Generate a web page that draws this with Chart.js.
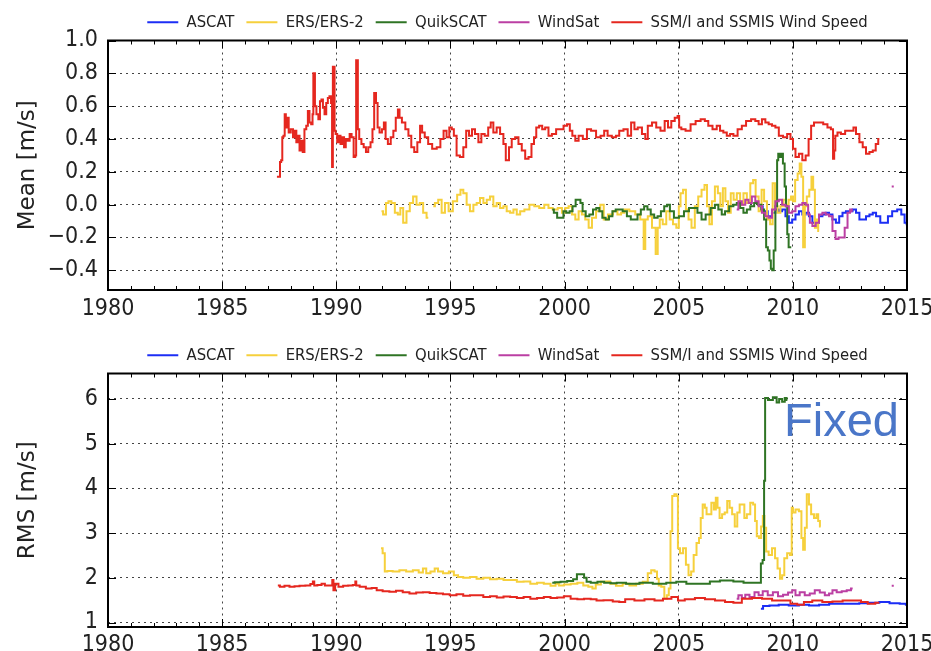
<!DOCTYPE html>
<html>
<head>
<meta charset="utf-8">
<script src="https://cdn.jsdelivr.net/npm/chart.js@4"></script>
<style>
  html, body { margin: 0; padding: 0; background: #fff; }
  #wrap { position: relative; width: 931px; height: 651px; overflow: hidden; }
  #meanBox { position: absolute; left: 0; top: 0; width: 931px; height: 325px; }
  #rmsBox { position: absolute; left: 0; top: 325px; width: 931px; height: 326px; }
  #fixed { position: absolute; left: 784px; top: 396px; font: 47px "Liberation Sans", Arial, sans-serif;
           line-height: 47px; color: #4a76c8; }
</style>
</head>
<body>
<div id="wrap">
  <div id="meanBox"><canvas id="mean"></canvas></div>
  <div id="rmsBox"><canvas id="rms"></canvas></div>
  <div id="fixed">Fixed</div>
</div>
<script>
const seriesNames = ['ASCAT', 'ERS/ERS-2', 'QuikSCAT', 'WindSat', 'SSM/I and SSMIS Wind Speed'];
const yearTicks = [1980, 1985, 1990, 1995, 2000, 2005, 2010, 2015];
const meanTicks = [-0.4, -0.2, 0.0, 0.2, 0.4, 0.6, 0.8, 1.0];
const rmsTicks = [1, 2, 3, 4, 5, 6];

// [year, mean difference m/s]
const ascatMean = [[2008.57,-0.01],[2008.79,-0.04],[2009.01,-0.07],[2009.16,-0.05],[2009.31,-0.03],[2009.46,-0.04],[2009.60,-0.03],[2009.75,-0.07],[2009.90,-0.11],[2010.04,-0.09],[2010.19,-0.06],[2010.34,-0.04],[2010.49,-0.06],[2010.63,-0.05],[2010.78,-0.07],[2010.93,-0.11],[2011.07,-0.11],[2011.22,-0.07],[2011.37,-0.06],[2011.51,-0.05],[2011.66,-0.06],[2011.81,-0.09],[2011.96,-0.11],[2012.10,-0.07],[2012.25,-0.05],[2012.40,-0.04],[2012.54,-0.04],[2012.69,-0.03],[2012.84,-0.05],[2012.99,-0.09],[2013.13,-0.09],[2013.28,-0.07],[2013.43,-0.06],[2013.57,-0.05],[2013.72,-0.07],[2013.94,-0.11],[2014.09,-0.11],[2014.24,-0.07],[2014.46,-0.04],[2014.68,-0.03],[2014.82,-0.06],[2014.97,-0.11],[2015.0,-0.12]];

const ersMean = [[1991.98,-0.04],[1992.12,-0.06],[1992.23,0.01],[1992.34,0.02],[1992.49,0.01],[1992.64,-0.05],[1992.75,-0.06],[1992.86,-0.02],[1993.0,-0.11],[1993.15,-0.04],[1993.29,0.01],[1993.44,0.05],[1993.59,0.0],[1993.73,0.01],[1993.88,-0.05],[1994.03,-0.08],[1994.10,null],[1994.25,-0.01],[1994.39,0.01],[1994.54,0.03],[1994.69,-0.05],[1994.83,0.01],[1995.01,-0.04],[1995.20,0.02],[1995.39,0.06],[1995.49,0.09],[1995.64,0.07],[1995.78,0.0],[1995.93,-0.04],[1996.08,0.0],[1996.22,0.01],[1996.37,0.04],[1996.52,0.01],[1996.66,0.03],[1996.81,0.05],[1996.95,-0.01],[1997.10,0.01],[1997.25,-0.02],[1997.39,-0.01],[1997.54,-0.04],[1997.69,-0.05],[1997.83,-0.03],[1997.98,-0.06],[1998.13,-0.04],[1998.35,-0.03],[1998.57,0.0],[1998.78,-0.01],[1999.0,-0.02],[1999.22,0.0],[1999.37,-0.02],[1999.59,-0.03],[1999.81,-0.02],[1999.96,-0.05],[2000.10,-0.02],[2000.25,-0.01],[2000.40,-0.06],[2000.54,-0.09],[2000.69,-0.04],[2000.83,-0.06],[2000.98,-0.09],[2001.13,-0.14],[2001.27,-0.08],[2001.49,-0.04],[2001.64,0.0],[2001.79,-0.09],[2002.01,-0.06],[2002.23,-0.04],[2002.40,-0.06],[2002.55,-0.05],[2002.69,-0.03],[2002.99,-0.04],[2003.20,-0.06],[2003.43,-0.09],[2003.50,-0.27],[2003.57,-0.09],[2003.72,-0.07],[2003.94,-0.14],[2004.04,-0.30],[2004.12,-0.14],[2004.22,-0.09],[2004.38,-0.12],[2004.53,-0.04],[2004.68,-0.09],[2004.82,-0.12],[2004.97,-0.14],[2005.04,-0.01],[2005.12,0.07],[2005.26,0.09],[2005.37,-0.03],[2005.49,-0.09],[2005.63,-0.14],[2005.78,-0.01],[2005.93,0.05],[2006.07,0.09],[2006.19,0.12],[2006.29,-0.01],[2006.40,-0.12],[2006.51,0.02],[2006.66,0.11],[2006.77,0.07],[2006.88,-0.01],[2006.99,0.10],[2007.10,0.02],[2007.22,-0.05],[2007.34,0.07],[2007.47,0.03],[2007.62,0.07],[2007.76,0.0],[2007.91,0.07],[2008.06,0.01],[2008.21,0.13],[2008.31,0.15],[2008.43,0.05],[2008.57,-0.04],[2008.69,0.09],[2008.79,0.02],[2008.94,-0.09],[2009.07,-0.12],[2009.16,0.13],[2009.28,-0.01],[2009.38,-0.05],[2009.53,-0.01],[2009.65,0.03],[2009.76,0.0],[2009.87,0.03],[2009.97,0.05],[2010.04,0.02],[2010.16,0.15],[2010.26,0.19],[2010.34,0.25],[2010.41,0.17],[2010.49,-0.26],[2010.56,-0.01],[2010.66,0.05],[2010.78,0.09],[2010.85,0.17],[2010.93,0.09],[2011.0,-0.14],[2011.07,-0.09],[2011.15,-0.16]];

const qscatMean = [[1999.46,-0.03],[1999.60,-0.05],[1999.75,-0.08],[1999.90,-0.08],[2000.0,-0.04],[2000.15,-0.05],[2000.29,-0.04],[2000.41,-0.01],[2000.56,0.03],[2000.66,0.03],[2000.73,0.01],[2000.85,-0.04],[2001.0,-0.07],[2001.17,-0.06],[2001.32,-0.03],[2001.46,-0.02],[2001.58,-0.04],[2001.73,-0.08],[2001.87,-0.09],[2002.02,-0.07],[2002.17,-0.04],[2002.31,-0.03],[2002.46,-0.03],[2002.63,-0.04],[2002.83,-0.07],[2002.97,-0.09],[2003.12,-0.09],[2003.27,-0.06],[2003.41,-0.03],[2003.56,-0.01],[2003.70,-0.03],[2003.85,-0.06],[2004.0,-0.08],[2004.15,-0.07],[2004.29,-0.04],[2004.44,-0.01],[2004.55,0.0],[2004.68,-0.04],[2004.90,-0.08],[2005.12,-0.07],[2005.34,-0.04],[2005.56,-0.02],[2005.71,-0.02],[2005.93,-0.05],[2006.07,-0.09],[2006.29,-0.06],[2006.51,-0.02],[2006.66,0.0],[2006.81,-0.03],[2006.96,-0.06],[2007.10,-0.04],[2007.32,-0.01],[2007.47,0.0],[2007.62,0.01],[2007.76,-0.02],[2007.91,-0.05],[2008.06,-0.03],[2008.21,-0.01],[2008.40,0.01],[2008.54,0.0],[2008.69,-0.03],[2008.79,-0.09],[2008.87,-0.26],[2008.94,-0.28],[2009.01,-0.34],[2009.06,-0.39],[2009.13,-0.40],[2009.19,-0.28],[2009.28,-0.01],[2009.34,0.27],[2009.38,0.31],[2009.46,0.29],[2009.53,0.31],[2009.60,0.25],[2009.68,0.11],[2009.72,-0.01],[2009.79,-0.18],[2009.84,-0.26],[2009.93,-0.26]];

const windsatMean = [[2007.54,-0.03],[2007.69,0.02],[2007.84,0.0],[2007.99,0.03],[2008.13,0.01],[2008.28,0.05],[2008.43,0.02],[2008.57,-0.01],[2008.72,-0.05],[2008.87,-0.07],[2009.01,-0.08],[2009.16,-0.03],[2009.31,0.02],[2009.46,0.03],[2009.60,0.0],[2009.75,-0.01],[2009.90,-0.05],[2010.04,-0.04],[2010.19,-0.01],[2010.34,0.0],[2010.49,0.01],[2010.63,0.0],[2010.71,-0.06],[2010.78,-0.11],[2010.93,-0.13],[2011.07,-0.11],[2011.22,-0.06],[2011.37,-0.05],[2011.51,-0.06],[2011.66,-0.07],[2011.81,-0.16],[2011.93,-0.21],[2012.07,-0.20],[2012.22,-0.20],[2012.32,-0.14],[2012.47,-0.05],[2012.54,-0.03],[2012.62,-0.04],[2012.70,null],[2014.33,0.11],[2014.42,0.11]];

const ssmiMean = [[1987.40,0.17],[1987.52,0.17],[1987.55,0.26],[1987.62,0.27],[1987.65,0.41],[1987.72,0.42],[1987.76,0.55],[1987.82,0.47],[1987.88,0.53],[1987.95,0.44],[1988.06,0.46],[1988.15,0.41],[1988.22,0.45],[1988.28,0.38],[1988.36,0.42],[1988.42,0.33],[1988.50,0.39],[1988.56,0.32],[1988.65,0.46],[1988.72,0.48],[1988.79,0.57],[1988.86,0.50],[1988.94,0.49],[1988.98,0.55],[1989.01,0.80],[1989.05,0.80],[1989.08,0.60],[1989.18,0.55],[1989.25,0.52],[1989.32,0.63],[1989.38,0.64],[1989.45,0.59],[1989.52,0.55],[1989.60,0.62],[1989.66,0.65],[1989.74,0.66],[1989.80,0.62],[1989.83,0.23],[1989.87,0.84],[1989.91,0.84],[1989.94,0.45],[1990.0,0.43],[1990.08,0.38],[1990.15,0.42],[1990.22,0.37],[1990.30,0.41],[1990.38,0.35],[1990.45,0.40],[1990.55,0.39],[1990.62,0.43],[1990.72,0.41],[1990.80,0.29],[1990.86,0.30],[1990.88,0.88],[1990.93,0.88],[1990.96,0.46],[1991.05,0.40],[1991.15,0.37],[1991.25,0.35],[1991.35,0.32],[1991.45,0.35],[1991.55,0.38],[1991.62,0.46],[1991.70,0.68],[1991.78,0.62],[1991.84,0.47],[1991.95,0.44],[1992.05,0.46],[1992.12,0.50],[1992.20,0.40],[1992.32,0.37],[1992.45,0.41],[1992.55,0.45],[1992.66,0.53],[1992.74,0.58],[1992.80,0.53],[1992.95,0.50],[1993.10,0.46],[1993.22,0.42],[1993.35,0.35],[1993.48,0.32],[1993.62,0.38],[1993.72,0.48],[1993.80,0.44],[1993.95,0.41],[1994.10,0.37],[1994.30,0.34],[1994.50,0.35],[1994.62,0.40],[1994.78,0.45],[1994.88,0.41],[1995.02,0.47],[1995.10,0.46],[1995.20,0.42],[1995.34,0.30],[1995.49,0.29],[1995.64,0.35],[1995.74,0.45],[1995.89,0.42],[1996.0,0.46],[1996.15,0.43],[1996.30,0.38],[1996.41,0.43],[1996.59,0.42],[1996.72,0.47],[1996.81,0.50],[1996.95,0.44],[1997.10,0.47],[1997.25,0.43],[1997.39,0.37],[1997.46,0.27],[1997.52,0.27],[1997.61,0.35],[1997.76,0.40],[1997.91,0.41],[1998.05,0.37],[1998.20,0.33],[1998.35,0.28],[1998.49,0.29],[1998.61,0.37],[1998.71,0.41],[1998.81,0.47],[1998.96,0.48],[1999.08,0.46],[1999.22,0.47],[1999.37,0.42],[1999.52,0.43],[1999.74,0.46],[1999.88,0.46],[2000.03,0.48],[2000.18,0.49],[2000.28,0.45],[2000.40,0.42],[2000.54,0.39],[2000.69,0.42],[2000.91,0.40],[2001.05,0.46],[2001.27,0.45],[2001.49,0.41],[2001.66,0.42],[2001.81,0.45],[2001.96,0.42],[2002.18,0.41],[2002.32,0.42],[2002.47,0.45],[2002.69,0.46],[2002.84,0.42],[2002.99,0.50],[2003.13,0.46],[2003.28,0.47],[2003.50,0.43],[2003.57,0.40],[2003.72,0.48],[2003.94,0.50],[2004.09,0.47],[2004.31,0.45],[2004.46,0.51],[2004.60,0.47],[2004.75,0.51],[2004.90,0.53],[2005.0,0.54],[2005.04,0.47],[2005.19,0.46],[2005.41,0.45],[2005.63,0.49],[2005.85,0.51],[2006.07,0.52],[2006.22,0.51],[2006.37,0.48],[2006.59,0.46],[2006.74,0.48],[2006.88,0.45],[2007.03,0.44],[2007.18,0.42],[2007.32,0.43],[2007.47,0.42],[2007.69,0.46],[2007.84,0.48],[2008.06,0.51],[2008.28,0.52],[2008.43,0.51],[2008.57,0.49],[2008.72,0.52],[2008.87,0.50],[2009.01,0.49],[2009.16,0.48],[2009.31,0.47],[2009.46,0.42],[2009.68,0.41],[2009.82,0.43],[2009.97,0.40],[2010.04,0.34],[2010.19,0.29],[2010.34,0.31],[2010.49,0.27],[2010.63,0.30],[2010.75,0.40],[2010.85,0.48],[2011.0,0.50],[2011.22,0.50],[2011.44,0.49],[2011.59,0.47],[2011.74,0.46],[2011.78,0.28],[2011.84,0.33],[2011.88,0.42],[2012.03,0.44],[2012.18,0.43],[2012.40,0.45],[2012.62,0.45],[2012.69,0.47],[2012.84,0.43],[2012.99,0.38],[2013.13,0.35],[2013.28,0.31],[2013.43,0.32],[2013.57,0.33],[2013.69,0.37],[2013.79,0.40]];

// [year, RMS difference m/s]
const ascatRms = [[2008.60,1.31],[2008.79,1.37],[2009.16,1.38],[2009.60,1.40],[2010.04,1.38],[2010.49,1.40],[2010.93,1.38],[2011.37,1.40],[2011.81,1.42],[2012.25,1.42],[2012.69,1.42],[2013.13,1.43],[2013.57,1.44],[2014.01,1.46],[2014.46,1.43],[2014.90,1.42],[2015.0,1.40]];

const ersRms = [[1991.96,2.66],[1992.10,2.55],[1992.15,2.14],[1992.32,2.15],[1992.62,2.14],[1992.91,2.17],[1993.21,2.14],[1993.50,2.17],[1993.72,2.12],[1993.87,2.21],[1994.01,2.10],[1994.24,2.14],[1994.38,2.21],[1994.53,2.14],[1994.82,2.10],[1995.04,2.14],[1995.26,2.06],[1995.41,2.02],[1995.71,2.00],[1996.0,2.02],[1996.29,1.98],[1996.59,2.0],[1996.88,1.97],[1997.18,1.98],[1997.47,1.95],[1997.76,1.95],[1998.06,1.91],[1998.35,1.92],[1998.65,1.87],[1998.94,1.89],[1999.24,1.87],[1999.53,1.82],[1999.68,1.87],[1999.82,1.83],[2000.12,1.85],[2000.41,1.87],[2000.71,1.89],[2000.93,1.83],[2001.15,1.80],[2001.29,1.76],[2001.44,1.85],[2001.74,1.91],[2001.90,1.92],[2002.10,1.87],[2002.40,1.82],[2002.69,1.87],[2002.99,1.83],[2003.28,1.87],[2003.57,1.91],[2003.72,2.10],[2003.87,2.17],[2004.01,2.14],[2004.09,1.98],[2004.16,1.83],[2004.31,1.80],[2004.43,1.53],[2004.53,1.61],[2004.60,1.76],[2004.68,3.04],[2004.75,3.83],[2004.87,3.87],[2004.94,3.83],[2004.99,2.66],[2005.12,2.55],[2005.26,2.66],[2005.37,2.29],[2005.49,2.06],[2005.60,2.14],[2005.71,2.51],[2005.85,2.78],[2005.93,2.89],[2006.0,3.34],[2006.10,3.64],[2006.19,3.57],[2006.25,3.42],[2006.37,3.42],[2006.49,3.68],[2006.59,3.53],[2006.66,3.79],[2006.74,3.57],[2006.84,3.34],[2006.96,3.42],[2007.07,3.46],[2007.18,3.72],[2007.28,3.57],[2007.40,3.42],[2007.51,3.15],[2007.62,3.46],[2007.72,3.64],[2007.84,3.64],[2007.91,3.34],[2008.06,3.42],[2008.21,3.68],[2008.31,3.64],[2008.38,3.27],[2008.46,2.93],[2008.57,2.89],[2008.65,3.15],[2008.72,3.38],[2008.79,3.12],[2008.87,2.59],[2009.01,2.51],[2009.16,2.66],[2009.28,2.44],[2009.38,2.21],[2009.49,1.98],[2009.57,2.06],[2009.68,2.44],[2009.82,2.55],[2009.93,2.51],[2009.97,3.57],[2010.04,3.46],[2010.19,3.53],[2010.34,3.49],[2010.41,2.89],[2010.49,2.63],[2010.56,3.12],[2010.66,3.87],[2010.75,3.64],[2010.85,3.42],[2011.0,3.34],[2011.07,3.42],[2011.15,3.27],[2011.22,3.15]];

const qscatRms = [[1999.46,1.89],[1999.68,1.90],[1999.97,1.91],[2000.26,1.93],[2000.49,1.97],[2000.59,2.08],[2000.78,2.08],[2000.93,2.0],[2001.0,1.91],[2001.29,1.89],[2001.59,1.91],[2001.88,1.89],[2002.17,1.88],[2002.40,1.89],[2002.99,1.87],[2003.57,1.89],[2004.16,1.87],[2004.75,1.89],[2005.04,1.91],[2005.63,1.87],[2006.22,1.87],[2006.51,1.92],[2007.10,1.94],[2007.69,1.92],[2007.99,1.89],[2008.57,1.89],[2008.63,2.32],[2008.72,2.40],[2008.76,4.17],[2008.81,6.02],[2009.01,5.98],[2009.24,6.04],[2009.34,5.92],[2009.46,6.0],[2009.60,5.94],[2009.69,6.02],[2009.76,5.98]];

const windsatRms = [[2007.54,1.53],[2007.69,1.61],[2007.84,1.55],[2007.99,1.62],[2008.21,1.57],[2008.43,1.68],[2008.57,1.61],[2008.79,1.70],[2009.01,1.61],[2009.24,1.68],[2009.46,1.59],[2009.68,1.62],[2009.90,1.67],[2010.04,1.72],[2010.19,1.61],[2010.41,1.68],[2010.63,1.61],[2010.85,1.65],[2011.07,1.72],[2011.29,1.67],[2011.51,1.61],[2011.66,1.65],[2011.81,1.72],[2012.03,1.68],[2012.25,1.70],[2012.47,1.72],[2012.62,1.76],[2012.70,null],[2014.33,1.82],[2014.42,1.82]];

const ssmiRms = [[1987.44,1.83],[1987.62,1.80],[1987.84,1.82],[1988.06,1.80],[1988.28,1.81],[1988.50,1.82],[1988.79,1.83],[1988.94,1.86],[1989.01,1.92],[1989.06,1.83],[1989.28,1.84],[1989.43,1.87],[1989.57,1.83],[1989.80,1.83],[1989.85,1.95],[1989.90,1.72],[1990.0,1.87],[1990.19,1.80],[1990.41,1.82],[1990.63,1.83],[1990.82,1.84],[1990.85,1.92],[1990.90,1.83],[1991.15,1.80],[1991.44,1.76],[1991.66,1.77],[1991.88,1.72],[1992.18,1.70],[1992.47,1.69],[1992.76,1.71],[1993.06,1.68],[1993.35,1.65],[1993.65,1.67],[1993.94,1.68],[1994.24,1.66],[1994.53,1.65],[1994.82,1.63],[1995.12,1.61],[1995.41,1.63],[1995.71,1.60],[1996.0,1.61],[1996.29,1.61],[1996.59,1.57],[1996.88,1.59],[1997.18,1.56],[1997.47,1.58],[1997.76,1.57],[1998.06,1.55],[1998.35,1.57],[1998.65,1.53],[1998.94,1.55],[1999.24,1.57],[1999.53,1.55],[1999.82,1.56],[2000.12,1.59],[2000.41,1.53],[2000.71,1.52],[2001.0,1.53],[2001.29,1.52],[2001.51,1.49],[2001.90,1.50],[2002.32,1.47],[2002.47,1.46],[2002.84,1.52],[2003.28,1.49],[2003.72,1.52],[2004.16,1.49],[2004.46,1.53],[2004.90,1.57],[2005.04,1.49],[2005.49,1.52],[2005.93,1.55],[2006.37,1.52],[2006.81,1.49],[2007.25,1.46],[2007.54,1.44],[2007.99,1.53],[2008.43,1.55],[2008.87,1.53],[2009.31,1.49],[2009.75,1.49],[2010.04,1.42],[2010.34,1.40],[2010.63,1.46],[2011.07,1.49],[2011.51,1.46],[2011.96,1.47],[2012.40,1.49],[2012.84,1.49],[2013.13,1.46],[2013.43,1.42],[2013.79,1.44]];

const lineColors = ['#1c2ef5', '#f6d03c', '#2f7424', '#bb3fa3', '#e5271f'];
const tickFont = {family: '"DejaVu Sans Condensed", "DejaVu Sans", sans-serif', size: 23};
const legendFont = {family: '"DejaVu Sans Condensed", "DejaVu Sans", sans-serif', size: 16.5};
const titleFont = {family: '"DejaVu Sans", sans-serif', size: 23};

function toPoints(pairs) {
    return pairs.map(p => ({x: p[0], y: p[1]}));
}

function fmtTick(v) {
    let s = Math.abs(v) < 1e-9 ? '0.0' : Math.abs(v).toFixed(1);
    return v < -1e-9 ? '\u2212' + s : s;
}

// inward matplotlib-style ticks and the black frame round the plot
const frameTicks = {
    id: 'frameTicks',
    afterDraw(chart) {
        let ctx = chart.ctx;
        let a = chart.chartArea;
        let x = chart.scales.x, y = chart.scales.y;
        ctx.save();
        ctx.strokeStyle = '#000';
        ctx.lineWidth = 1;
        ctx.beginPath();
        for (let yr = x.min; yr <= x.max; yr++) {
            let px = Math.round(x.getPixelForValue(yr)) + 0.5;
            let len = yr % 5 === 0 ? 8 : 4;
            ctx.moveTo(px, a.top); ctx.lineTo(px, a.top + len);
            ctx.moveTo(px, a.bottom); ctx.lineTo(px, a.bottom - len);
        }
        y.ticks.forEach(t => {
            let py = Math.round(y.getPixelForValue(t.value)) + 0.5;
            ctx.moveTo(a.left, py); ctx.lineTo(a.left + 8, py);
            ctx.moveTo(a.right, py); ctx.lineTo(a.right - 8, py);
        });
        ctx.stroke();
        ctx.lineWidth = 2;
        ctx.strokeRect(a.left, a.top, a.right - a.left, a.bottom - a.top);
        ctx.restore();
    }
};

function makeChart(id, seriesList, opts) {
    let datasets = seriesList.map((s, i) => ({
        label: seriesNames[i],
        data: toPoints(s),
        borderColor: lineColors[i],
        backgroundColor: lineColors[i],
        borderWidth: 2,
        pointRadius: 0,
        stepped: 'middle',
        spanGaps: false,
        order: seriesList.length - i
    }));
    return new Chart(document.getElementById(id).getContext('2d'), {
        type: 'line',
        data: {datasets: datasets},
        plugins: [frameTicks],
        options: {
            responsive: true,
            maintainAspectRatio: false,
            animation: false,
            parsing: false,
            layout: {padding: {left: 0, right: 24, top: opts.padTop, bottom: 0}},
            plugins: {
                tooltip: {enabled: false},
                legend: {
                    position: 'top',
                    fullSize: false,
                    labels: {
                        font: legendFont,
                        color: '#222',
                        usePointStyle: true,
                        pointStyle: 'line',
                        pointStyleWidth: 31,
                        padding: 12,
                        sort: (a, b) => a.datasetIndex - b.datasetIndex
                    }
                }
            },
            scales: {
                x: {
                    type: 'linear',
                    min: yearTicks[0],
                    max: yearTicks[yearTicks.length - 1],
                    afterBuildTicks: s => { s.ticks = yearTicks.map(v => ({value: v})); },
                    afterFit: s => { s.height = opts.xHeight; s.paddingLeft = 0; s.paddingRight = 0; },
                    ticks: {font: tickFont, color: '#222', padding: opts.xPad, maxRotation: 0,
                            autoSkip: false, callback: v => String(v)},
                    grid: {color: '#444', lineWidth: 1, drawTicks: false},
                    border: {display: false, dash: [2, 4]}
                },
                y: {
                    min: opts.yMin,
                    max: opts.yMax,
                    afterBuildTicks: s => { s.ticks = opts.yTicks.map(v => ({value: v})); },
                    afterFit: s => { s.width = 108; s.paddingTop = 0; s.paddingBottom = 0; },
                    ticks: {font: tickFont, color: '#222', padding: 10, callback: opts.fmt},
                    grid: {color: '#444', lineWidth: 1, drawTicks: false},
                    border: {display: false, dash: [2, 4]},
                    title: {display: true, text: opts.title, font: titleFont, color: '#222',
                            padding: {top: 14, bottom: 0}}
                }
            }
        }
    });
}

window.onload = function() {
    makeChart('mean', [ascatMean, ersMean, qscatMean, windsatMean, ssmiMean], {
        padTop: 2, xHeight: 35, xPad: 5, yMin: -0.52, yMax: 1.0,
        yTicks: meanTicks, fmt: fmtTick, title: 'Mean [m/s]'
    });
    makeChart('rms', [ascatRms, ersRms, qscatRms, windsatRms, ssmiRms], {
        padTop: 10, xHeight: 24, xPad: 4, yMin: 0.9, yMax: 6.57,
        yTicks: rmsTicks, fmt: v => String(v), title: 'RMS [m/s]'
    });
};
</script>
</body>
</html>
